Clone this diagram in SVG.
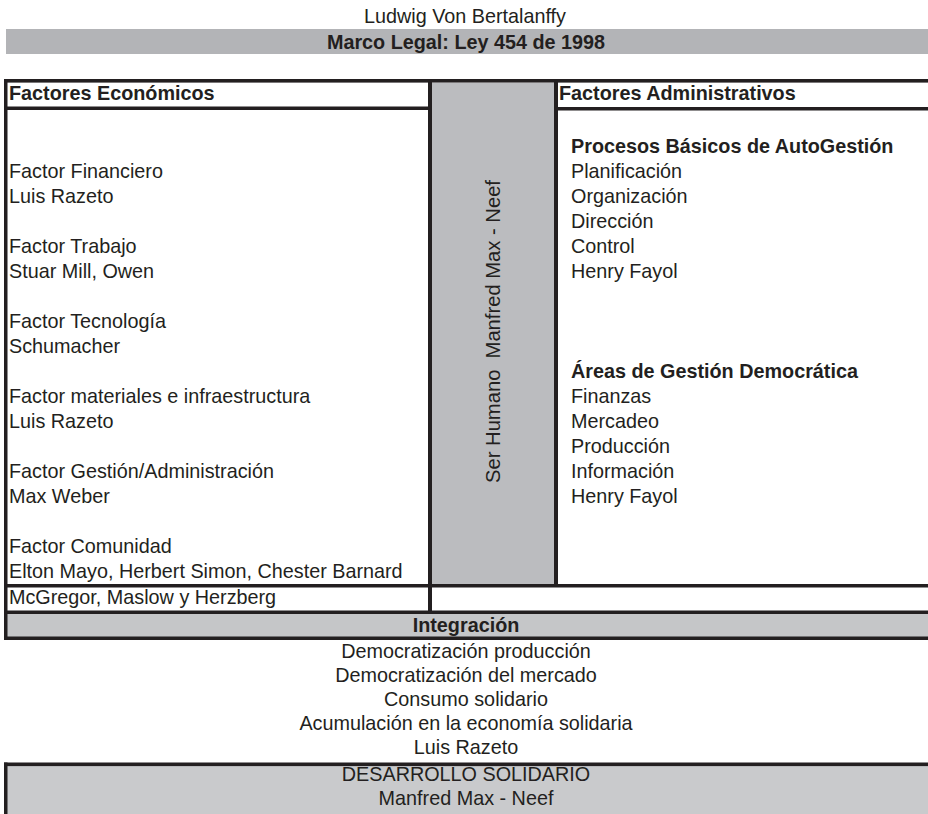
<svg xmlns="http://www.w3.org/2000/svg" width="928" height="814" viewBox="0 0 928 814">
<style>
text{font-family:"Liberation Sans",Arial,sans-serif;font-size:19.8px;fill:#231f20}
.b{font-weight:bold}
.c{text-anchor:middle}
.ln{fill:#231f20}
</style>
<rect width="928" height="814" fill="#ffffff"/>
<g id="title">
<text class="c" x="465" y="23">Ludwig Von Bertalanffy</text>
</g>
<g id="marco-legal">
<rect x="6" y="29" width="922" height="25" fill="#b3b4b7"/>
<text class="b c" x="466" y="49">Marco Legal: Ley 454 de 1998</text>
</g>
<g id="ser-humano">
<rect x="432" y="83" width="122" height="501" fill="#bbbcbf"/>
<text class="c" style="font-size:20.2px" transform="translate(500,331.5) rotate(-90)">Ser Humano&#160; Manfred Max - Neef</text>
</g>
<g id="integracion">
<rect x="7" y="614" width="921" height="23" fill="#c5c6c8"/>
<text class="b c" x="466" y="632">Integración</text>
</g>
<g id="desarrollo">
<rect x="7" y="766" width="921" height="48" fill="#c9cacc"/>
<text class="c" x="466" y="781">DESARROLLO SOLIDARIO</text>
<text class="c" x="466" y="805">Manfred Max - Neef</text>
</g>
<g id="connectors">
<rect class="ln" x="4" y="79" width="924" height="3.6"/>
<rect class="ln" x="4" y="79" width="3.5" height="561"/>
<rect class="ln" x="4" y="106.5" width="427" height="3.5"/>
<rect class="ln" x="555" y="107" width="373" height="3.5"/>
<rect class="ln" x="428" y="79" width="4" height="535"/>
<rect class="ln" x="554" y="79" width="4" height="508"/>
<rect class="ln" x="4" y="584" width="924" height="3.5"/>
<rect class="ln" x="4" y="610.5" width="924" height="3.5"/>
<rect class="ln" x="4" y="636.5" width="924" height="3.5"/>
<rect class="ln" x="4" y="762.5" width="924" height="3.6"/>
<rect class="ln" x="4" y="762.5" width="3.5" height="51.5"/>
</g>
<g id="factores-economicos">
<text class="b" x="9" y="100">Factores Económicos</text>
<text x="9" y="178">Factor Financiero</text>
<text x="9" y="203">Luis Razeto</text>
<text x="9" y="253">Factor Trabajo</text>
<text x="9" y="278">Stuar Mill, Owen</text>
<text x="9" y="328">Factor Tecnología</text>
<text x="9" y="353">Schumacher</text>
<text x="9" y="403">Factor materiales e infraestructura</text>
<text x="9" y="428">Luis Razeto</text>
<text x="9" y="478">Factor Gestión/Administración</text>
<text x="9" y="503">Max Weber</text>
<text x="9" y="553">Factor Comunidad</text>
<text x="9" y="578">Elton Mayo, Herbert Simon, Chester Barnard</text>
<text x="9" y="604">McGregor, Maslow y Herzberg</text>
</g>
<g id="factores-administrativos">
<text class="b" x="559" y="100">Factores Administrativos</text>
<text class="b" x="571" y="153">Procesos Básicos de AutoGestión</text>
<text x="571" y="178">Planificación</text>
<text x="571" y="203">Organización</text>
<text x="571" y="228">Dirección</text>
<text x="571" y="253">Control</text>
<text x="571" y="278">Henry Fayol</text>
<text class="b" x="571" y="378">Áreas de Gestión Democrática</text>
<text x="571" y="403">Finanzas</text>
<text x="571" y="428">Mercadeo</text>
<text x="571" y="453">Producción</text>
<text x="571" y="478">Información</text>
<text x="571" y="503">Henry Fayol</text>
</g>
<g id="integracion-items">
<text class="c" x="466" y="658">Democratización producción</text>
<text class="c" x="466" y="682">Democratización del mercado</text>
<text class="c" x="466" y="706">Consumo solidario</text>
<text class="c" x="466" y="730">Acumulación en la economía solidaria</text>
<text class="c" x="466" y="754">Luis Razeto</text>
</g>
</svg>
